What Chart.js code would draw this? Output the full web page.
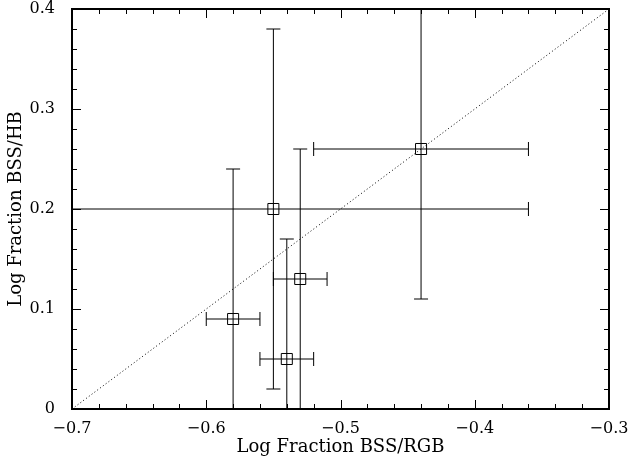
<!DOCTYPE html>
<html lang="en">
<head>
    <meta charset="UTF-8">
    <title>BSS fractions</title>
    <script src="https://cdn.jsdelivr.net/npm/chart.js@4.4.1/dist/chart.umd.min.js"></script>
    <style>
        html, body {margin: 0; padding: 0; background: #fff;}
        #wrap {width: 631px; height: 461px;}
    </style>
</head>
<body>
    <div id="wrap"><canvas id="plot"></canvas></div>

    <script>
        // log fraction values
        const fracRGB = [-0.44, -0.55, -0.53, -0.54, -0.58];
        const fracHB = [0.26, 0.20, 0.13, 0.05, 0.09];
        const errRGB = [0.08, 0.19, 0.02, 0.02, 0.02];
        const errHB = [0.15, 0.18, 0.13, 0.12, 0.15];
        const xTicks = [-0.7, -0.6, -0.5, -0.4, -0.3];
        const yTicks = [0, 0.1, 0.2, 0.3, 0.4];
        const oneToOne = [[-0.7, 0], [-0.3, 0.4]];

        const FONT = 'DejaVu Serif';

        function fmt(v) {
            if (Math.abs(v) < 1e-9) return '0';
            return v.toFixed(1).replace('-', '\u2212');
        }

        // error bars, drawn under the squares
        const errorBars = {
            id: 'errorBars',
            beforeDatasetsDraw(chart) {
                const {ctx, chartArea: a, scales: {x, y}} = chart;
                const cap = 7;
                ctx.save();
                ctx.beginPath();
                ctx.rect(a.left, a.top, a.right - a.left, a.bottom - a.top);
                ctx.clip();
                ctx.strokeStyle = '#000';
                ctx.lineWidth = 1;
                for (let i = 0; i < fracRGB.length; i++) {
                    const px = x.getPixelForValue(fracRGB[i]);
                    const py = y.getPixelForValue(fracHB[i]);
                    const x0 = x.getPixelForValue(fracRGB[i] - errRGB[i]);
                    const x1 = x.getPixelForValue(fracRGB[i] + errRGB[i]);
                    const y0 = y.getPixelForValue(fracHB[i] - errHB[i]);
                    const y1 = y.getPixelForValue(fracHB[i] + errHB[i]);
                    ctx.beginPath();
                    ctx.moveTo(x0, py); ctx.lineTo(x1, py);
                    ctx.moveTo(x0, py - cap); ctx.lineTo(x0, py + cap);
                    ctx.moveTo(x1, py - cap); ctx.lineTo(x1, py + cap);
                    ctx.moveTo(px, y0); ctx.lineTo(px, y1);
                    ctx.moveTo(px - cap, y0); ctx.lineTo(px + cap, y0);
                    ctx.moveTo(px - cap, y1); ctx.lineTo(px + cap, y1);
                    ctx.stroke();
                }
                ctx.restore();
            }
        };

        // box frame with inward ticks on all four sides
        const frame = {
            id: 'frame',
            afterDraw(chart) {
                const {ctx, chartArea: a, scales: {x, y}} = chart;
                ctx.save();
                ctx.strokeStyle = '#000';
                ctx.lineWidth = 1;
                ctx.beginPath();
                for (let i = 0; i <= 20; i++) {
                    const v = -0.7 + i * 0.02;
                    const p = Math.round(x.getPixelForValue(v)) + 0.5;
                    const len = i % 5 === 0 ? 9 : 5;
                    ctx.moveTo(p, a.bottom); ctx.lineTo(p, a.bottom - len);
                    ctx.moveTo(p, a.top); ctx.lineTo(p, a.top + len);
                }
                for (let i = 0; i <= 20; i++) {
                    const v = i * 0.02;
                    const p = Math.round(y.getPixelForValue(v)) + 0.5;
                    const len = i % 5 === 0 ? 9 : 5;
                    ctx.moveTo(a.left, p); ctx.lineTo(a.left + len, p);
                    ctx.moveTo(a.right, p); ctx.lineTo(a.right - len, p);
                }
                ctx.stroke();
                ctx.lineWidth = 2;
                ctx.strokeRect(a.left, a.top, a.right - a.left, a.bottom - a.top);
                ctx.restore();
            }
        };

        const points = fracRGB.map((v, i) => ({x: v, y: fracHB[i]}));

        new Chart(document.getElementById('plot'), {
            type: 'scatter',
            data: {
                datasets: [{
                    data: points,
                    pointStyle: 'rect',
                    pointRadius: 7.8,
                    pointBorderWidth: 1,
                    borderColor: '#000',
                    backgroundColor: 'rgba(0,0,0,0)'
                }, {
                    type: 'line',
                    data: oneToOne.map(p => ({x: p[0], y: p[1]})),
                    borderColor: '#000',
                    borderWidth: 1,
                    borderDash: [1, 2.5],
                    pointRadius: 0,
                    fill: false
                }]
            },
            options: {
                responsive: true,
                maintainAspectRatio: false,
                animation: false,
                layout: {padding: {top: 9, right: 22, left: 0, bottom: 0}},
                plugins: {legend: {display: false}, tooltip: {enabled: false}},
                scales: {
                    x: {
                        type: 'linear', min: -0.7, max: -0.3,
                        afterBuildTicks: s => { s.ticks = xTicks.map(v => ({value: v})); },
                        afterFit: s => { s.height = 52; s.paddingLeft = 0; s.paddingRight = 0; },
                        grid: {display: false},
                        border: {display: false},
                        ticks: {
                            color: '#000', padding: 2,
                            font: {family: FONT, size: 16},
                            callback: v => fmt(v)
                        },
                        title: {
                            display: true, text: 'Log Fraction BSS/RGB', color: '#000',
                            font: {family: FONT, size: 18}, padding: {top: 0, bottom: 3}
                        }
                    },
                    y: {
                        type: 'linear', min: 0, max: 0.4,
                        afterBuildTicks: s => { s.ticks = yTicks.map(v => ({value: v})); },
                        afterFit: s => { s.width = 72; s.paddingTop = 0; s.paddingBottom = 0; },
                        grid: {display: false},
                        border: {display: false},
                        ticks: {
                            color: '#000', padding: 9,
                            font: {family: FONT, size: 16},
                            callback: v => fmt(v)
                        },
                        title: {
                            display: true, text: 'Log Fraction BSS/HB', color: '#000',
                            font: {family: FONT, size: 18}, padding: {top: 6, bottom: 0}
                        }
                    }
                }
            },
            plugins: [errorBars, frame]
        });
    </script>
</body>
</html>
